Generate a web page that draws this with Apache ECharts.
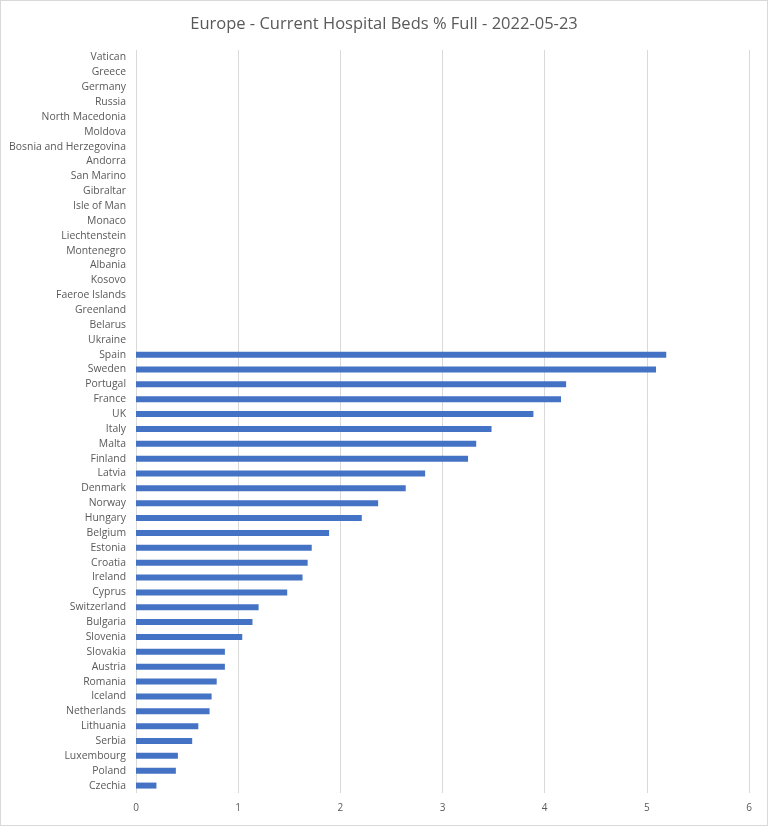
<!DOCTYPE html>
<html>
<head>
<meta charset="utf-8">
<title>Europe - Current Hospital Beds % Full</title>
<script src="https://cdn.jsdelivr.net/npm/echarts@6/dist/echarts.min.js"></script>
<style>
	html, body { margin: 0; padding: 0; background: #fff; }
	#main { width: 766px; height: 824px; border: 1px solid #d9d9d9; }
</style>
</head>
<body>
<div id="main"></div>
<script type="text/javascript">
// countries, top to bottom
var countries = ['Vatican', 'Greece', 'Germany', 'Russia', 'North Macedonia', 'Moldova',
	'Bosnia and Herzegovina', 'Andorra', 'San Marino', 'Gibraltar', 'Isle of Man', 'Monaco',
	'Liechtenstein', 'Montenegro', 'Albania', 'Kosovo', 'Faeroe Islands', 'Greenland',
	'Belarus', 'Ukraine', 'Spain', 'Sweden', 'Portugal', 'France', 'UK', 'Italy', 'Malta',
	'Finland', 'Latvia', 'Denmark', 'Norway', 'Hungary', 'Belgium', 'Estonia', 'Croatia',
	'Ireland', 'Cyprus', 'Switzerland', 'Bulgaria', 'Slovenia', 'Slovakia', 'Austria',
	'Romania', 'Iceland', 'Netherlands', 'Lithuania', 'Serbia', 'Luxembourg', 'Poland', 'Czechia'];
// % full, same order (no data for the first 20)
var bedsFull = [null, null, null, null, null, null, null, null, null, null,
	null, null, null, null, null, null, null, null, null, null,
	5.19, 5.09, 4.21, 4.16, 3.89, 3.48, 3.33, 3.25, 2.83, 2.64,
	2.37, 2.21, 1.89, 1.72, 1.68, 1.63, 1.48, 1.20, 1.14, 1.04,
	0.87, 0.87, 0.79, 0.74, 0.72, 0.61, 0.55, 0.41, 0.39, 0.20];
var xTicks = [0, 1, 2, 3, 4, 5, 6];

var myChart = echarts.init(document.getElementById('main'));
var font = '"Open Sans", "Liberation Sans", sans-serif';

var option = {
	animation: false,
	title: {
		text: 'Europe - Current Hospital Beds % Full - 2022-05-23',
		left: 'center',
		top: 10,
		textStyle: { color: '#595959', fontSize: 16.5, fontWeight: 'normal', fontFamily: font }
	},
	grid: { left: 135, right: 18, top: 49, bottom: 32, containLabel: false },
	xAxis: {
		type: 'value',
		min: xTicks[0],
		max: xTicks[xTicks.length - 1],
		interval: 1,
		axisLine: { show: false },
		axisTick: { show: false },
		axisLabel: { color: '#595959', fontSize: 10, fontFamily: font, margin: 10 },
		splitLine: { show: true, lineStyle: { color: '#d9d9d9', width: 1 } }
	},
	yAxis: {
		type: 'category',
		inverse: true,
		data: countries,
		axisLine: { show: false },
		axisTick: { show: false },
		axisLabel: { color: '#595959', fontSize: 10.4, fontFamily: font, margin: 10, interval: 0 },
		splitLine: { show: false }
	},
	series: [{
		name: 'Beds % Full',
		type: 'bar',
		data: bedsFull,
		barWidth: 6,
		itemStyle: { color: '#4472c4' }
	}]
};
myChart.setOption(option);
</script>
</body>
</html>
